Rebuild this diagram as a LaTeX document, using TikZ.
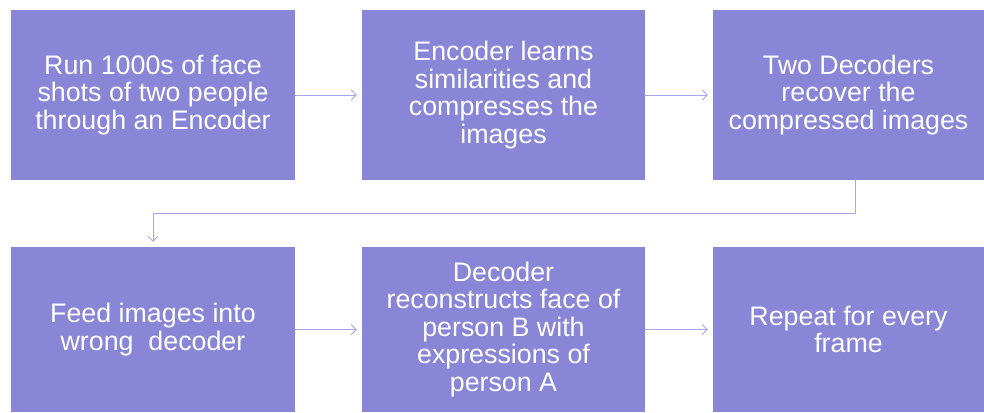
\documentclass[tikz,border=0pt]{standalone}
\usepackage{fontspec}
\setmainfont{Liberation Sans}
\usepackage{xcolor}
\usetikzlibrary{arrows.meta}
\definecolor{boxpurple}{HTML}{8985D7}
\definecolor{linepurple}{HTML}{A8A4EA}

\begin{document}
\begin{tikzpicture}[x=1pt,y=-1pt,
    stepbox/.style={rectangle,fill=boxpurple,text=white,align=center,inner sep=0pt,
        font=\fontsize{26.8}{27.5}\selectfont},
    flow/.style={draw=linepurple,line width=0.8pt,-{Straight Barb[length=5pt,width=10pt]}}]
            \useasboundingbox (0,0) rectangle (984,412);
            % top row
            \node[stepbox,minimum width=284,minimum height=170] (run) at (153,95)
                {Run 1000s of face\\shots of two people\\through an Encoder};
            \node[stepbox,minimum width=283,minimum height=170] (learn) at (503.5,95)
                {Encoder learns\\similarities and\\compresses the\\images};
            \node[stepbox,minimum width=271,minimum height=170] (recover) at (848.5,95)
                {Two Decoders\\recover the\\compressed images};
            % bottom row
            \node[stepbox,minimum width=284,minimum height=165] (feed) at (153,329.5)
                {Feed images into\\wrong~ decoder};
            \node[stepbox,minimum width=283,minimum height=165] (rebuild) at (503.5,329.5)
                {Decoder\\reconstructs face of\\person B with\\expressions of\\person A};
            \node[stepbox,minimum width=271,minimum height=165] (repeat) at (848.5,329.5)
                {Repeat for every\\frame};
            % connectors
            \draw[flow] (run.east) -- ([xshift=-5]learn.west);
            \draw[flow] (learn.east) -- ([xshift=-5]recover.west);
            \draw[flow] (feed.east) -- ([xshift=-5]rebuild.west);
            \draw[flow] (rebuild.east) -- ([xshift=-5]repeat.west);
            \coordinate (turn) at (855,213);
            \draw[flow] (recover.south -| turn) -- (turn) -- (153,213) -- ([yshift=5]feed.north);
        \end{tikzpicture}
\end{document}
